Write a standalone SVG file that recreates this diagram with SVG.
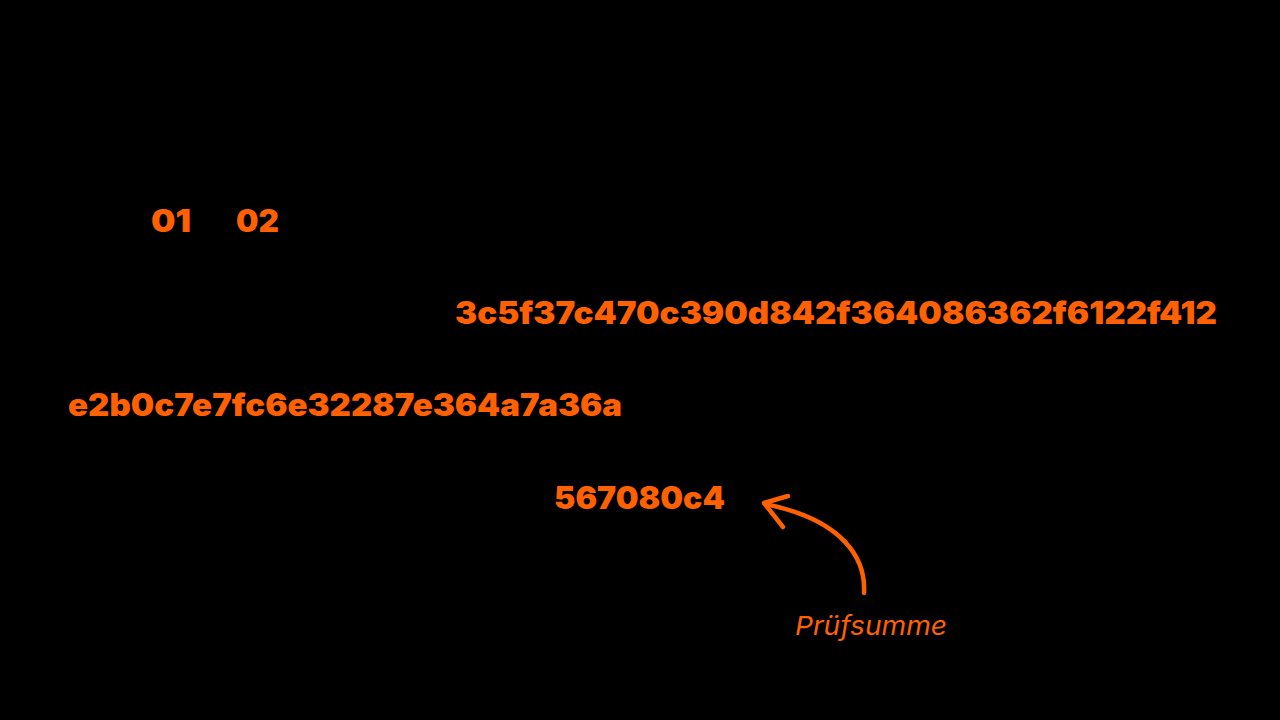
<svg xmlns="http://www.w3.org/2000/svg" width="1280" height="720" viewBox="0 0 1280 720">
<style>
.h{font-family:Inter,"Liberation Sans",sans-serif;font-weight:900;font-size:31px;fill:#ff6000}
.l{font-family:Inter,"Liberation Sans",sans-serif;font-style:italic;font-size:26px;fill:#ff6000}
.c{fill:none;stroke:#ff6000;stroke-width:4.5;stroke-linecap:round;stroke-linejoin:round}
</style>
<rect width="1280" height="720" fill="#000"/>
<g id="n01"><text class="h" x="151" y="232" textLength="40" lengthAdjust="spacingAndGlyphs">01</text></g>
<g id="n02"><text class="h" x="236" y="232" textLength="43" lengthAdjust="spacingAndGlyphs">02</text></g>
<g id="hash1"><text class="h" x="455" y="324" textLength="762" lengthAdjust="spacingAndGlyphs">3c5f37c470c390d842f364086362f6122f412</text></g>
<g id="hash2"><text class="h" x="68" y="416" textLength="554" lengthAdjust="spacingAndGlyphs">e2b0c7e7fc6e32287e364a7a36a</text></g>
<g id="checksum"><text class="h" x="554" y="509" textLength="171" lengthAdjust="spacingAndGlyphs">567080c4</text></g>
<g id="label"><text class="l" x="795" y="635" textLength="152" lengthAdjust="spacingAndGlyphs">Prüfsumme</text></g>
<g id="connectors">
<path class="c" d="M864,593 C866,560 845,520 765,504"/>
<path class="c" d="M788,496 L764,503 L783,527"/>
</g>
</svg>
